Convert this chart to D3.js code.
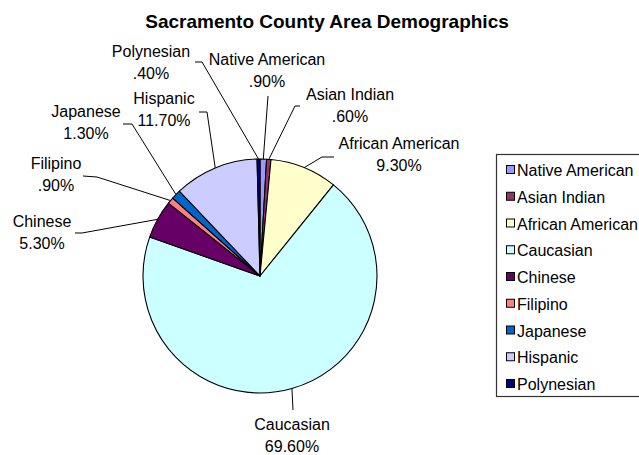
<!DOCTYPE html>
<html>
<head>
<meta charset="utf-8">
<script src="https://cdn.jsdelivr.net/npm/d3@7/dist/d3.min.js"></script>
<style>
  body { margin: 0; background: #fff; }
  text { font-family: "Liberation Sans", Arial, sans-serif; fill: #000; }
</style>
</head>
<body>
<svg id="chart" width="639" height="455"></svg>
<script>
// Population share by group, in percent (pie order, clockwise from 12 o'clock)
const categories = ["Native American", "Asian Indian", "African American", "Caucasian",
                    "Chinese", "Filipino", "Japanese", "Hispanic", "Polynesian"];
const shares = [0.9, 0.6, 9.3, 69.6, 5.3, 0.9, 1.3, 11.7, 0.4];
const sliceColors = ["#9999FF", "#993366", "#FFFFCC", "#CCFFFF",
                     "#660066", "#FF8080", "#0066CC", "#CCCCFF", "#000080"];

// Data-label placement: text centre / first baseline, and the leader's
// start point plus optional elbow before it runs to the slice edge.
const labelLayout = [
  { tx: 267, ty: 65,  start: [268, 96],  elbow: null },
  { tx: 350, ty: 100, start: [300, 106], elbow: [295, 106] },
  { tx: 399, ty: 149, start: [334, 157], elbow: [322, 157] },
  { tx: 292, ty: 430, start: [293, 410], elbow: null },
  { tx: 42,  ty: 227, start: [75, 233],  elbow: [82, 233] },
  { tx: 56,  ty: 169, start: [83, 176],  elbow: [97, 177] },
  { tx: 86,  ty: 117, start: [123, 124], elbow: [132, 124] },
  { tx: 164, ty: 104, start: [199, 112], elbow: [207, 112] },
  { tx: 151, ty: 57,  start: [195, 62],  elbow: [202, 62] }
];

const svg = d3.select("#chart");
const cx = 260, cy = 276, R = 117;

// Percent text in the spreadsheet style: 0.90 -> ".90%"
const fmtPct = v => (v.toFixed(2) + "%").replace(/^0\./, ".");

// Title
svg.append("text")
  .attr("x", 327).attr("y", 28)
  .attr("text-anchor", "middle")
  .style("font-size", "19px").style("font-weight", "bold")
  .text("Sacramento County Area Demographics");

// Pie
const color = d3.scaleOrdinal().domain(categories).range(sliceColors);
const pie = d3.pie().sort(null).value(d => d.value);
const arcs = pie(categories.map((c, i) => ({ name: c, value: shares[i] })));
const arc = d3.arc().innerRadius(0).outerRadius(R);

const g = svg.append("g").attr("transform", `translate(${cx},${cy})`);
g.selectAll("path.slice")
  .data(arcs)
  .join("path")
  .attr("class", "slice")
  .attr("d", arc)
  .attr("fill", d => color(d.data.name))
  .attr("stroke", "#000")
  .attr("stroke-width", 1.1)
  .attr("stroke-linejoin", "round");

// Leader lines and data labels
const edge = d => {
  const a = (d.startAngle + d.endAngle) / 2;
  return [cx + R * Math.sin(a), cy - R * Math.cos(a)];
};
const line = d3.line();
arcs.forEach((d, i) => {
  const L = labelLayout[i];
  const pts = [L.start];
  if (L.elbow) pts.push(L.elbow);
  pts.push(edge(d));
  svg.append("path")
    .attr("d", line(pts))
    .attr("fill", "none")
    .attr("stroke", "#000")
    .attr("stroke-width", 1);
  const t = svg.append("text")
    .attr("x", L.tx).attr("y", L.ty)
    .attr("text-anchor", "middle")
    .style("font-size", "16px");
  t.append("tspan").attr("x", L.tx).text(d.data.name);
  t.append("tspan").attr("x", L.tx).attr("dy", 21.5).text(fmtPct(d.data.value));
});

// Legend
const lg = svg.append("g");
lg.append("rect")
  .attr("x", 496.5).attr("y", 154.5)
  .attr("width", 170).attr("height", 242)
  .attr("fill", "#fff")
  .attr("stroke", "#333").attr("stroke-width", 1.2);
const rowY = d3.scalePoint().domain(categories).range([176, 390]);
const rows = lg.selectAll("g.row").data(categories).join("g").attr("class", "row");
rows.append("rect")
  .attr("x", 506.5).attr("y", d => rowY(d) - 10.5)
  .attr("width", 8).attr("height", 8)
  .attr("fill", d => color(d))
  .attr("stroke", "#000").attr("stroke-width", 1);
rows.append("text")
  .attr("x", 517).attr("y", d => rowY(d))
  .style("font-size", "16px")
  .text(d => d);
</script>
</body>
</html>
